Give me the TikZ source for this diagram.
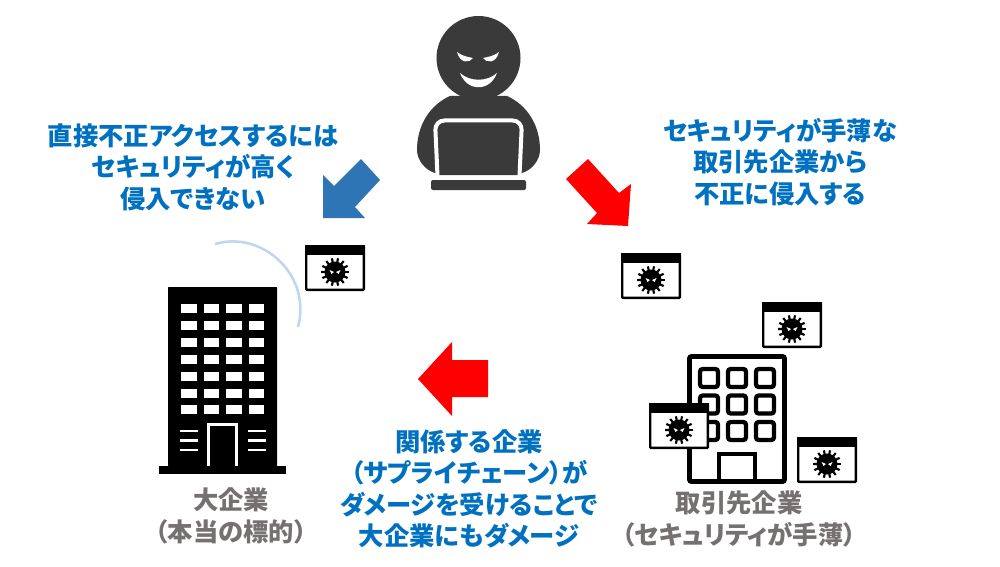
\documentclass[tikz,border=0pt]{standalone}
\usepackage{fontspec}
\setmainfont[RawFeature=+palt]{Noto Sans CJK JP}
\definecolor{msgblue}{HTML}{0070C0}
\definecolor{lblgray}{HTML}{767171}
\definecolor{arrowblue}{HTML}{2E75B6}
\definecolor{arcblue}{HTML}{BDD7EE}
\definecolor{hackergray}{HTML}{3A3A3A}
\tikzset{
	msg/.style={text=msgblue,font=\fontsize{19}{23.6}\selectfont\bfseries,align=center},
	lbl/.style={text=lblgray,font=\fontsize{19}{23.6}\selectfont\bfseries,align=center},
	virus/.pic={
		\filldraw[fill=white,draw=black,line width=1.8pt,rounded corners=0.5pt] (1.2,1.2) rectangle (58.8,44.8);
		\fill[black] (0,0) rectangle (60,10);
		\fill[black] (30,27) circle (10.5);
		\foreach \a in {0,25.7,...,340}
			\draw[black,line width=1.6pt] (30,27) -- ++(\a:14);
		\fill[white] (24.5,25) -- (29,27) -- (26.5,29) -- cycle;
		\fill[white] (35.5,25) -- (31,27) -- (33.5,29) -- cycle;
	}
}
\begin{document}
\begin{tikzpicture}[x=0.75pt,y=-0.75pt]
\useasboundingbox (0,0) rectangle (1000,567);

% hacker
\fill[hackergray] (450,96) .. controls (430,105) and (417,125) .. (417,150)
	.. controls (417,160) and (425,170) .. (435,173) -- (438,175) -- (519,175) -- (522,173)
	.. controls (532,170) and (540,160) .. (540,150)
	.. controls (540,125) and (527,105) .. (507,96) -- cycle;
\fill[hackergray] (478.5,58) circle (42);
\draw[white,line width=3pt,rounded corners=7pt] (437.5,176) -- (435,120.5) -- (522,120.5) -- (519.5,176);
\fill[hackergray,rounded corners=1.5pt] (431,180) rectangle (526,190);
\fill[white] (457,52) .. controls (462,56) and (468,57) .. (473,58) .. controls (470,63) and (460,64) .. (457,52) -- cycle;
\fill[white] (499,52) .. controls (494,56) and (488,57) .. (483,58) .. controls (486,63) and (496,64) .. (499,52) -- cycle;
\fill[white] (460,73) .. controls (470,82) and (487,82) .. (497,73) .. controls (490,92) and (467,92) .. (460,73) -- cycle;

% arrows
\fill[arrowblue] (361,159) -- (380,180) -- (355,207) -- (365,218) -- (323,218) -- (323,175) -- (334,186) -- cycle;
\fill[red] (588,159) -- (619,193) -- (631,184) -- (628,226) -- (587,224) -- (597,213) -- (566,179) -- cycle;
\fill[red] (418,379) -- (452,342) -- (452,360) -- (488,360) -- (488,397) -- (452,397) -- (452,416) -- cycle;

% big building
\fill[black,rounded corners=0.5pt] (168,287) rectangle (277,466);
\fill[black] (159,466) rectangle (286,474);
\foreach \row in {0,...,6}
	\foreach \col in {181,203.5,226,248.5}
		\fill[white] (\col,304+\row*16.9) rectangle +(15.5,9);
\foreach \ly in {431,440.5,450} {
	\draw[white,line width=1.6pt] (180,\ly) -- (198,\ly);
	\draw[white,line width=1.6pt] (248,\ly) -- (266,\ly);
}
\draw[white,line width=2.4pt] (208.5,466) -- (208.5,424.5) -- (236.5,424.5) -- (236.5,466);
\draw[arcblue,line width=1.9pt] (215,244) .. controls (262,230) and (312,275) .. (298,327);

% small building
\draw[black,line width=3.6pt,rounded corners=1.5pt] (689.5,356.5) rectangle (784.5,481.5);
\foreach \row in {367,393.5,420}
	\foreach \col in {698,726,754}
		\draw[black,line width=3.2pt,rounded corners=2pt] (\col+2,\row+2) rectangle +(18,18);
\draw[black,line width=3pt] (719,481) -- (719,454) -- (755,454) -- (755,481);

% windows
\foreach \wx/\wy in {305/245,621/253,762/302,649/403,797/437}
	\pic at (\wx,\wy) {virus};

% text
\node[msg] (direct) at (193,167) {直接不正アクセスするには\\セキュリティが高く\\侵入できない};
\node[msg] (weak) at (780,162) {セキュリティが手薄な\\取引先企業から\\不正に侵入する};
\node[msg] (chain) at (469,489) {関係する企業\\（サプライチェーン）が\\ダメージを受けることで\\大企業にもダメージ};
\node[lbl] (bigco) at (231,516) {大企業\\（本当の標的）};
\node[lbl] (partner) at (739,519) {取引先企業\\（セキュリティが手薄）};
\end{tikzpicture}
\end{document}
